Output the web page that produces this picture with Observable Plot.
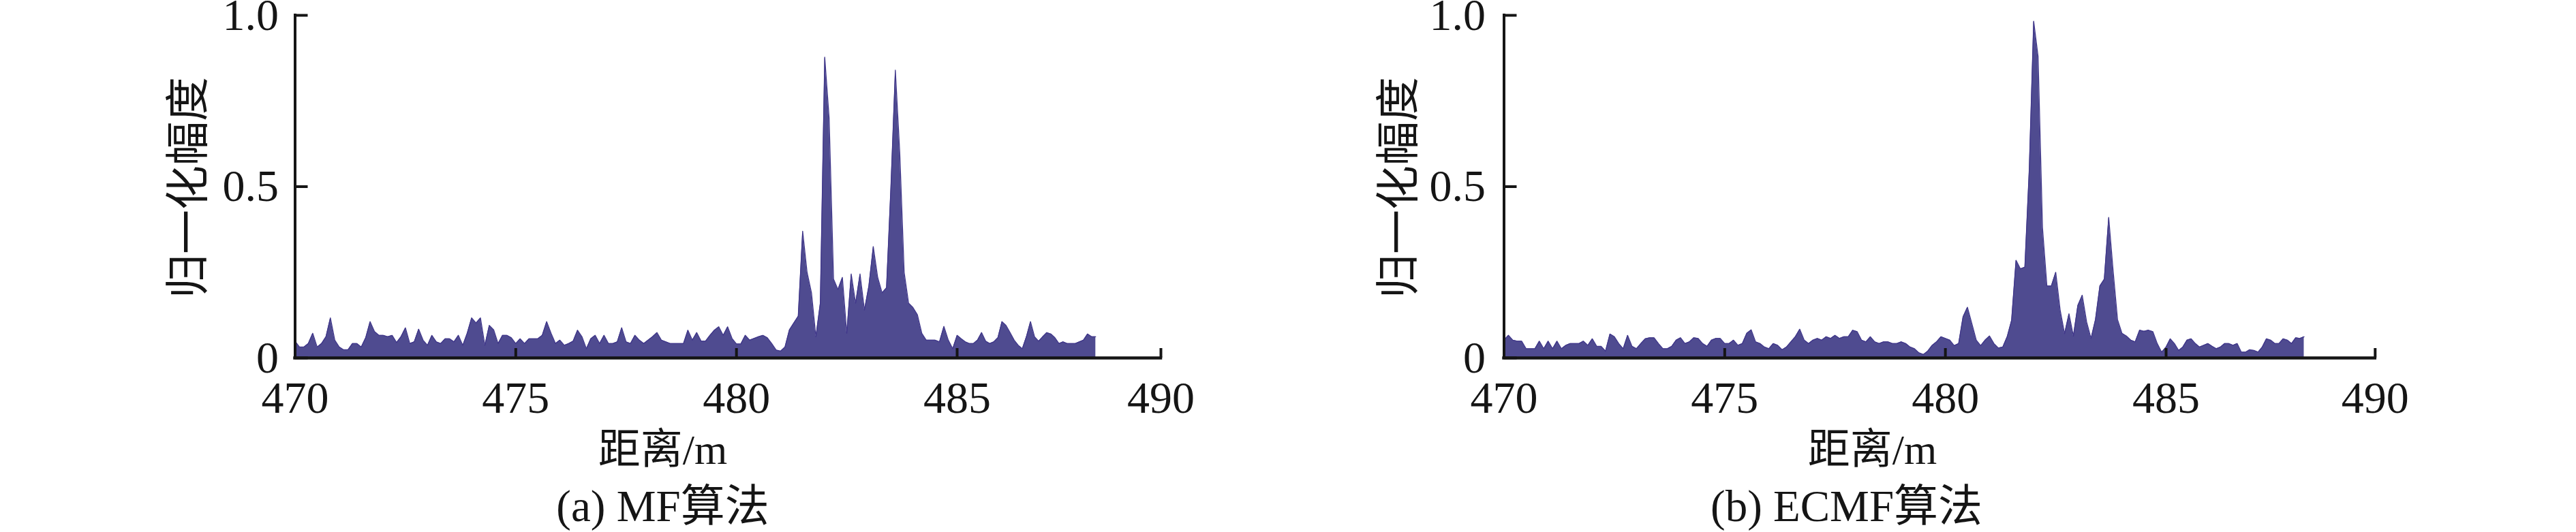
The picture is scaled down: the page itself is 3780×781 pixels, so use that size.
<!DOCTYPE html>
<html>
<head>
<meta charset="utf-8">
<script src="https://cdn.jsdelivr.net/npm/d3@7"></script>
<script src="https://cdn.jsdelivr.net/npm/@observablehq/plot@0.6"></script>
<style>
  html, body { margin: 0; padding: 0; background: #fff; }
  #wrap { position: relative; width: 3780px; height: 781px; overflow: hidden; background: #fff; }
  #wrap svg { position: absolute; top: 0; }
</style>
</head>
<body>
<div id="wrap"></div>
<script>
// ---- data (distance grid: 470.0 m, step 0.1 m) ----
const distanceStart = 470;
const distanceStep = 0.1;

// (a) MF algorithm, normalized amplitude, 470.0 … 488.4 m
const mfAmplitude = [
  0.049, 0.032, 0.032, 0.042, 0.072, 0.032, 0.042, 0.062, 0.117, 0.052,
  0.032, 0.024, 0.024, 0.042, 0.042, 0.032, 0.059, 0.106, 0.077, 0.066,
  0.066, 0.062, 0.066, 0.045, 0.062, 0.088, 0.042, 0.047, 0.084, 0.052,
  0.037, 0.066, 0.047, 0.042, 0.056, 0.056, 0.047, 0.066, 0.037, 0.072,
  0.117, 0.102, 0.117, 0.037, 0.095, 0.082, 0.042, 0.066, 0.066, 0.059,
  0.042, 0.056, 0.042, 0.056, 0.056, 0.056, 0.066, 0.106, 0.072, 0.042,
  0.052, 0.037, 0.042, 0.049, 0.081, 0.062, 0.027, 0.056, 0.066, 0.042,
  0.066, 0.042, 0.042, 0.047, 0.088, 0.047, 0.042, 0.066, 0.052, 0.042,
  0.052, 0.062, 0.074, 0.052, 0.047, 0.042, 0.042, 0.042, 0.042, 0.081,
  0.052, 0.074, 0.049, 0.049, 0.066, 0.081, 0.091, 0.066, 0.091, 0.057,
  0.041, 0.041, 0.066, 0.052, 0.057, 0.062, 0.066, 0.059, 0.042, 0.023,
  0.02, 0.032, 0.082, 0.102, 0.122, 0.37, 0.25, 0.19, 0.062, 0.16,
  0.878, 0.70, 0.23, 0.2, 0.235, 0.072, 0.245, 0.16, 0.245, 0.14,
  0.21, 0.325, 0.235, 0.19, 0.205, 0.5, 0.84, 0.6, 0.25, 0.16,
  0.147, 0.126, 0.072, 0.052, 0.052, 0.052, 0.047, 0.092, 0.052, 0.027,
  0.066, 0.056, 0.047, 0.042, 0.042, 0.052, 0.074, 0.049, 0.042, 0.047,
  0.059, 0.106, 0.095, 0.074, 0.052, 0.037, 0.027, 0.062, 0.106, 0.062,
  0.049, 0.062, 0.074, 0.07, 0.059, 0.042, 0.047, 0.042, 0.042, 0.042,
  0.047, 0.052, 0.07, 0.062, 0.062
];

// (b) ECMF algorithm, normalized amplitude, 470.0 … 488.3 m
const ecmfAmplitude = [
  0.052, 0.066, 0.052, 0.049, 0.049, 0.027, 0.027, 0.027, 0.049, 0.027,
  0.049, 0.027, 0.049, 0.027, 0.037, 0.042, 0.042, 0.042, 0.049, 0.037,
  0.056, 0.034, 0.034, 0.02, 0.07, 0.062, 0.042, 0.027, 0.066, 0.034,
  0.027, 0.042, 0.056, 0.059, 0.059, 0.042, 0.027, 0.027, 0.034, 0.052,
  0.059, 0.042, 0.047, 0.059, 0.057, 0.042, 0.034, 0.052, 0.057, 0.057,
  0.042, 0.042, 0.052, 0.037, 0.042, 0.072, 0.082, 0.047, 0.042, 0.032,
  0.027, 0.042, 0.037, 0.024, 0.032, 0.047, 0.062, 0.084, 0.052, 0.042,
  0.052, 0.057, 0.052, 0.062, 0.057, 0.066, 0.057, 0.062, 0.062, 0.081,
  0.077, 0.052, 0.047, 0.062, 0.047, 0.042, 0.047, 0.047, 0.042, 0.042,
  0.047, 0.042, 0.032, 0.027, 0.015, 0.01, 0.02, 0.037, 0.047, 0.062,
  0.057, 0.052, 0.036, 0.042, 0.12, 0.148, 0.1, 0.052, 0.036, 0.052,
  0.064, 0.042, 0.029, 0.032, 0.062, 0.11, 0.285, 0.26, 0.265, 0.55,
  0.983, 0.88, 0.38, 0.21, 0.21, 0.25, 0.14, 0.071, 0.129, 0.064,
  0.153, 0.183, 0.105, 0.057, 0.112, 0.21, 0.23, 0.41, 0.255, 0.112,
  0.072, 0.064, 0.052, 0.047, 0.081, 0.078, 0.081, 0.077, 0.042, 0.017,
  0.032, 0.056, 0.042, 0.022, 0.032, 0.052, 0.056, 0.042, 0.032, 0.037,
  0.042, 0.034, 0.027, 0.032, 0.042, 0.042, 0.037, 0.042, 0.017, 0.017,
  0.024, 0.022, 0.017, 0.032, 0.056, 0.052, 0.042, 0.042, 0.056, 0.052,
  0.042, 0.059, 0.057, 0.062
];

const xTicks = [470, 475, 480, 485, 490];
const yTicks = [0, 0.5, 1];
const yTickLabels = ["0", "0.5", "1.0"];
const yTitle = "归一化幅度";
const xTitle = "距离/m";
const captions = ["(a) MF算法", "(b) ECMF算法"];

// ---- layout ----
const FONT = "'Liberation Serif', 'Times New Roman', 'Noto Sans CJK SC', serif";
const INK = "#151515";
const FILL = "#4f4b90";
const EDGE = "#40378a";

const panels = [
  {values: mfAmplitude, caption: captions[0], left: 0,
   xRange: [432.5, 1404, 1703], yTickGap: 24, yTitleX: 277, xTitleX: 972, captionX: 972},
  {values: ecmfAmplitude, caption: captions[1], left: 1890,
   xRange: [316.5, 1288, 1594.8], yTickGap: 27, yTitleX: 163, xTitleX: 857, captionX: 819}
];

const wrap = document.getElementById("wrap");

for (const p of panels) {
  const rows = p.values.map((v, i) => ({dist: +(distanceStart + i * distanceStep).toFixed(2), amp: v}));
  const yRange = [525, 22];
  const xTickLen = 14 / (yRange[0] - yRange[1]);               // 14px in y units
  const yTickLen = 19 / ((p.xRange[1] - p.xRange[0]) / 15);     // 19px in x units
  const label = {frameAnchor: "top-left", textAnchor: "middle", lineAnchor: "middle",
                 fill: INK, fontFamily: FONT, text: d => d};

  const chart = Plot.plot({
    width: 1890,
    height: 781,
    margin: 0,
    x: {type: "linear", domain: [470, 485, 490], range: p.xRange, axis: null},
    y: {type: "linear", domain: [0, 1], range: yRange, axis: null},
    style: {fontFamily: FONT, background: "transparent", color: INK},
    marks: [
      Plot.areaY(rows, {x: "dist", y: "amp", fill: FILL, curve: "linear"}),
      Plot.lineY(rows, {x: "dist", y: "amp", stroke: EDGE, strokeWidth: 1.3, curve: "linear"}),
      // axes
      Plot.ruleY([0], {x1: 470, x2: 490, stroke: INK, strokeWidth: 4.5, strokeLinecap: "square"}),
      Plot.ruleX([470], {y1: 0, y2: 1, stroke: INK, strokeWidth: 4, strokeLinecap: "square"}),
      Plot.ruleX(xTicks, {x: d => d, y1: 0, y2: xTickLen, stroke: INK, strokeWidth: 4}),
      Plot.ruleY(yTicks, {y: d => d, x1: 470, x2: 470 + yTickLen, stroke: INK, strokeWidth: 4}),
      // tick labels
      Plot.text(xTicks, {x: d => d, y: 0, dy: 59, text: d => String(d), fontSize: 66,
        fill: INK, textAnchor: "middle", lineAnchor: "middle", fontFamily: FONT}),
      Plot.text(yTicks, {x: 470, y: d => d, dx: -p.yTickGap, text: (d, i) => yTickLabels[i], fontSize: 66,
        fill: INK, textAnchor: "end", lineAnchor: "middle", fontFamily: FONT}),
      // axis titles and caption
      Plot.text([yTitle], {...label, dx: p.yTitleX, dy: 275, rotate: -90, fontSize: 65}),
      Plot.text([xTitle], {...label, dx: p.xTitleX, dy: 661, fontSize: 62}),
      Plot.text([p.caption], {...label, dx: p.captionX, dy: 744, fontSize: 65})
    ]
  });
  chart.style.left = p.left + "px";
  wrap.appendChild(chart);
}
</script>
</body>
</html>
